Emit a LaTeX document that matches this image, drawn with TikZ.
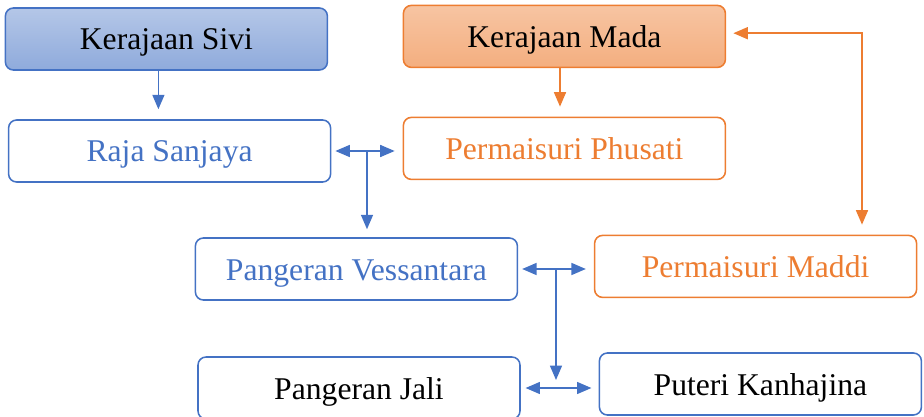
\documentclass[tikz,border=0pt]{standalone}
\usepackage{fontspec}
\setmainfont{Liberation Serif}
\usetikzlibrary{arrows.meta,calc}

\definecolor{kblue}{HTML}{4472C4}
\definecolor{korange}{HTML}{ED7D31}

\begin{document}
\begin{tikzpicture}[
    font=\fontsize{22.5}{26}\selectfont,
    box/.style={rectangle, rounded corners=0.2cm, line width=1.1pt, minimum width=8.05cm, minimum height=1.55cm, text centered, inner sep=0pt, text height=0.62cm, text depth=0.07cm},
    bluebox/.style={box, draw=kblue, fill=white},
    orangebox/.style={box, draw=korange, fill=white},
    sivistyle/.style={box, draw=kblue, top color=kblue!40!white, bottom color=kblue!60!white},
    madastyle/.style={box, draw=korange, top color=korange!45!white, bottom color=korange!62!white},
    arrow/.style={line width=1pt, -{Triangle[length=0.36cm, width=0.3cm]}},
    dblarrow/.style={line width=1pt, {Triangle[length=0.36cm, width=0.3cm]}-{Triangle[length=0.36cm, width=0.3cm]}}
]
\useasboundingbox (0,0) rectangle (23.1,-10.425);

% --- Nodes ---
% Kingdoms
\node (sivi) at (4.16, -0.975) [sivistyle] {Kerajaan Sivi};
\node (mada) at (14.11, -0.91) [madastyle] {Kerajaan Mada};

% Parents
\node (sanjaya) at (4.24, -3.775) [bluebox, text=kblue] {Raja Sanjaya};
\node (phusati) at (14.11, -3.71) [orangebox, text=korange] {Permaisuri Phusati};

% Vessantara and wife
\node (vess) at (8.91, -6.725) [bluebox, text=kblue] {Pangeran Vessantara};
\node (maddi) at (18.89, -6.66) [orangebox, text=korange] {Permaisuri Maddi};

% Children
\node (jali) at (8.975, -9.7) [bluebox, text=black] {Pangeran Jali};
\node (kanha) at (19.01, -9.6) [bluebox, text=black] {Puteri Kanhajina};

% --- Junctions ---
\coordinate (j1) at ($(sanjaya.east)!0.5!(sanjaya.east -| phusati.west)$);
\coordinate (j2) at ($(vess.east)!0.5!(vess.east -| maddi.west)$);
\coordinate (j3) at ($(jali.east)!0.5!(jali.east -| kanha.west)$);

% --- Edges ---
% Kingdoms to parents
\draw [arrow, draw=kblue, shorten >=0.25cm] ([xshift=-0.2cm]sivi.south) -- ([xshift=-0.2cm]sivi.south |- sanjaya.north);
\draw [arrow, draw=korange, shorten >=0.25cm] ([xshift=-0.11cm]mada.south) -- ([xshift=-0.11cm]mada.south |- phusati.north);

% Marriages
\draw [dblarrow, draw=kblue, shorten <=0.1cm, shorten >=0.2cm] (sanjaya.east) -- (sanjaya.east -| phusati.west);
\draw [dblarrow, draw=kblue, shorten <=0.1cm, shorten >=0.2cm] (vess.east) -- (vess.east -| maddi.west);
\draw [dblarrow, draw=kblue, shorten <=0.12cm, shorten >=0.18cm] (jali.east) -- (jali.east -| kanha.west);

% Children lines
\draw [arrow, draw=kblue, shorten >=0.2cm] (j1) -- (j1 |- vess.north);
\draw [arrow, draw=kblue, shorten >=0.2cm] (j2) -- (j2 |- j3);

% Maddi back to Mada
\draw [dblarrow, draw=korange, shorten <=0.18cm, shorten >=0.25cm] ([yshift=0.08cm]mada.east) -| ([xshift=2.66cm]maddi.north);

\end{tikzpicture}
\end{document}
